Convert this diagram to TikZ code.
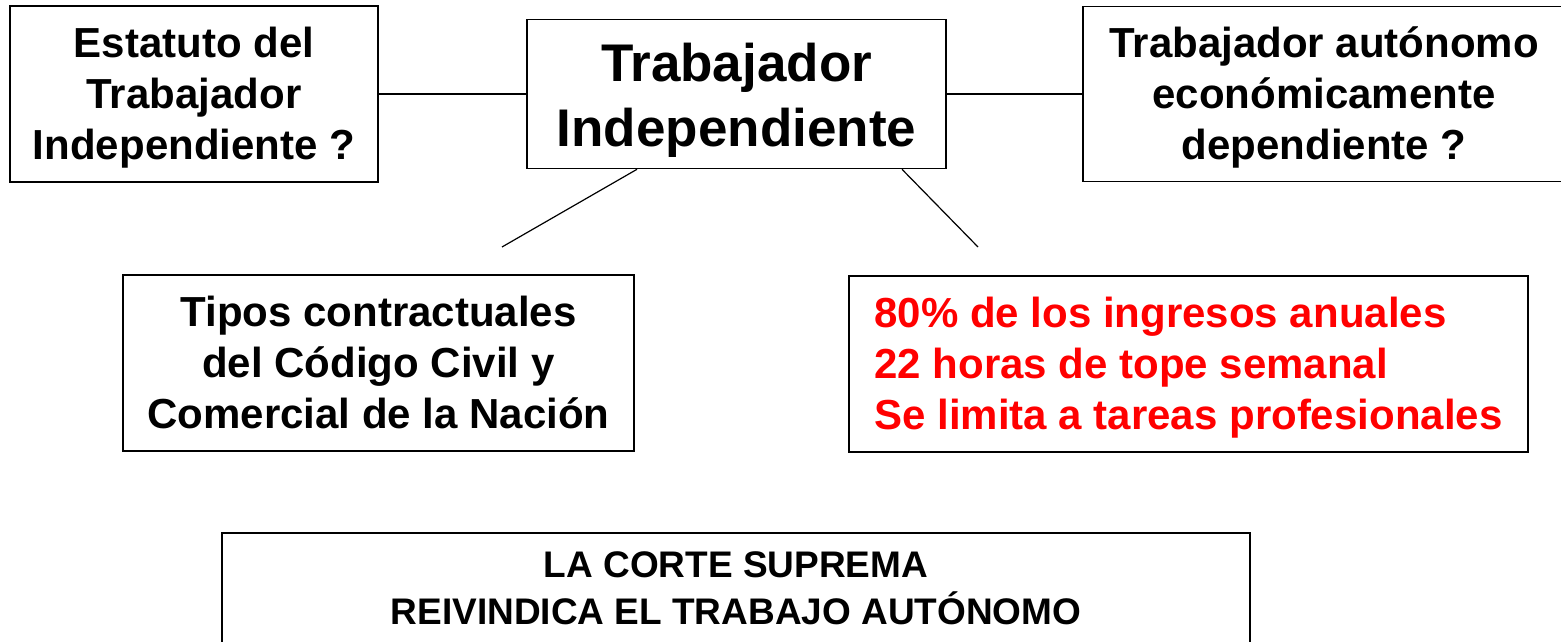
\documentclass[tikz,border=0pt]{standalone}
\usepackage{fontspec}
\setmainfont{Liberation Sans}
\usepackage{tikz}
\def\topline{548}
% struts that fix the first and last line of each box
\newcommand\bstrut{\rule[-8pt]{0pt}{46pt}}
\newcommand\mstrut{\rule[-9pt]{0pt}{60pt}}
\newcommand\cstrut{\rule[-8pt]{0pt}{40pt}}

\begin{document}
\begin{tikzpicture}[x=1pt,y=1pt,line width=1.2pt,draw=black]
    \tikzstyle{box}=[draw,line width=1.6pt,inner sep=0pt,align=center,
        font=\bfseries\fontsize{42}{51}\selectfont]
    \tikzstyle{main box}=[box,font=\bfseries\fontsize{53}{65}\selectfont]
    \tikzstyle{note box}=[box,align=left,text=red]
    \tikzstyle{court box}=[box,font=\bfseries\fontsize{37}{47}\selectfont]

    \useasboundingbox (0,0) rectangle (1561,642);

    % Draw the top row
    \node[main box, minimum width=419pt, minimum height=149pt] (TI) at (736.5,\topline)
        {\mstrut Trabajador\\Independiente\mstrut};
    \node[box, minimum width=368pt, minimum height=176pt] (ETI) at (194,\topline)
        {\bstrut Estatuto del\\Trabajador\\Independiente ?\bstrut};
    \node[box, minimum width=482pt, minimum height=175pt] (TAE) at (1324,\topline)
        {\bstrut Trabajador autónomo\\económicamente\\dependiente ?\bstrut};

    % Draw the second row
    \node[box, minimum width=511pt, minimum height=176pt] (TC) at (378.5,279)
        {\bstrut Tipos contractuales\\del Código Civil y\\Comercial de la Nación\bstrut};
    \node[note box, minimum width=679pt, minimum height=176pt] (RQ) at (1188.5,278)
        {\bstrut 80\% de los ingresos anuales\\22 horas de tope semanal\\Se limita a tareas profesionales\bstrut};

    % Draw the court box at the bottom
    \node[court box, minimum width=1028pt, minimum height=113pt] (CS) at (736,52.5)
        {\cstrut LA CORTE SUPREMA\\REIVINDICA EL TRABAJO AUTÓNOMO\cstrut};

    % Connect the main box with the side boxes
    \draw (ETI.east) -- (ETI.east -| TI.west);
    \draw (TI.east) -- (TI.east -| TAE.west);

    % Lines going down from the main box
    \coordinate (TC-end) at (502,395);
    \coordinate (RQ-end) at (978,395);
    \draw ([xshift=-99.5pt]TI.south) -- (TC-end);
    \draw ([xshift=165.5pt]TI.south) -- (RQ-end);
\end{tikzpicture}
\end{document}
